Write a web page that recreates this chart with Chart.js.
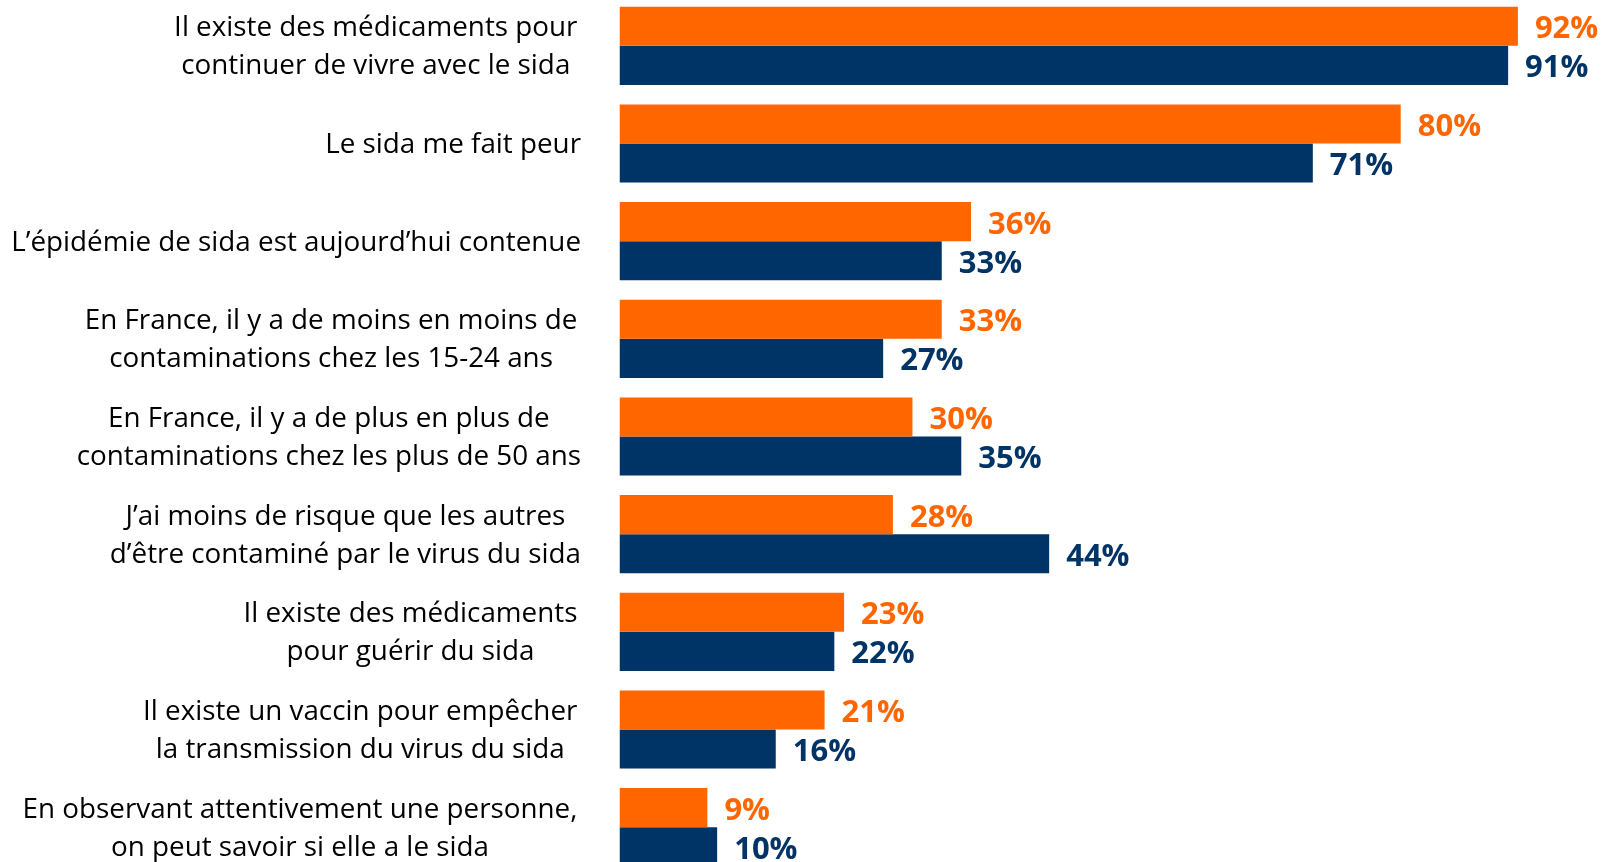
<!DOCTYPE html>
<html>
<head>
<meta charset="utf-8">
<script src="https://cdn.jsdelivr.net/npm/chart.js@4.4.1/dist/chart.umd.min.js"></script>
<style>
  html, body { margin: 0; padding: 0; background: #ffffff; overflow: hidden; }
  #wrap { position: absolute; left: 0; top: -3px; width: 1614px; height: 879px; }
</style>
</head>
<body>
<div id="wrap"><canvas id="myChart" width="1614" height="879"></canvas></div>
<script>
// category labels, one array of lines per bar group
var categories = [
  ["Il existe des médicaments pour ", "continuer de vivre avec le sida"],
  ["Le sida me fait peur"],
  ["L’épidémie de sida est aujourd’hui contenue"],
  ["En France, il y a de moins en moins de ", "contaminations chez les 15-24 ans"],
  ["En France, il y a de plus en plus de", "contaminations chez les plus de 50 ans"],
  ["J’ai moins de risque que les autres", "d’être contaminé par le virus du sida"],
  ["Il existe des médicaments ", "pour guérir du sida"],
  ["Il existe un vaccin pour empêcher ", "la transmission du virus du sida"],
  ["En observant attentivement une personne, ", "on peut savoir si elle a le sida"]
];
var orangeValues = [92, 80, 36, 33, 30, 28, 23, 21, 9];
var navyValues = [91, 71, 33, 27, 35, 44, 22, 16, 10];

var ORANGE = "#FF6600";
var NAVY = "#003366";
var LABEL_FONT = "27.8px 'Open Sans'";
var VALUE_FONT = "bold 31px 'Open Sans'";

// draws the multi-line category labels, lines centred inside each block
var categoryLabels = {
  id: "categoryLabels",
  afterDraw: function (chart) {
    var ctx = chart.ctx;
    var yScale = chart.scales.y;
    var right = 581;
    var lineGap = 38.3;
    ctx.save();
    ctx.font = LABEL_FONT;
    ctx.fillStyle = "#000000";
    ctx.textAlign = "center";
    ctx.textBaseline = "alphabetic";
    categories.forEach(function (lines, i) {
      var y = yScale.getPixelForValue(i);
      var maxW = 0;
      lines.forEach(function (l) {
        maxW = Math.max(maxW, ctx.measureText(l).width);
      });
      var cx = right - maxW / 2;
      var first = y + 9.5 - (lines.length - 1) * lineGap / 2;
      lines.forEach(function (l, k) {
        ctx.fillText(l.trim(), cx, first + k * lineGap);
      });
    });
    ctx.restore();
  }
};

// value labels at the end of each bar
var valueLabels = {
  id: "valueLabels",
  afterDatasetsDraw: function (chart) {
    var ctx = chart.ctx;
    ctx.save();
    ctx.font = VALUE_FONT;
    ctx.textAlign = "left";
    ctx.textBaseline = "alphabetic";
    chart.data.datasets.forEach(function (ds, d) {
      var meta = chart.getDatasetMeta(d);
      ctx.fillStyle = ds.backgroundColor;
      meta.data.forEach(function (bar, i) {
        ctx.fillText(ds.data[i] + "%", bar.x + 17, bar.y + 12);
      });
    });
    ctx.restore();
  }
};

new Chart("myChart", {
  type: "bar",
  data: {
    labels: categories.map(function (c) { return c.join(" "); }),
    datasets: [
      {
        label: "Série 1",
        backgroundColor: ORANGE,
        data: orangeValues,
        barPercentage: 1.0,
        categoryPercentage: 0.8
      },
      {
        label: "Série 2",
        backgroundColor: NAVY,
        data: navyValues,
        barPercentage: 1.0,
        categoryPercentage: 0.8
      }
    ]
  },
  options: {
    indexAxis: "y",
    responsive: false,
    animation: false,
    devicePixelRatio: 1,
    layout: { padding: { left: 619.5, right: 18, top: 0, bottom: 0 } },
    plugins: {
      legend: { display: false },
      tooltip: { enabled: false }
    },
    scales: {
      x: { display: false, min: 0, max: 100 },
      y: { display: false, grid: { display: false } }
    }
  },
  plugins: [categoryLabels, valueLabels]
});
</script>
</body>
</html>
